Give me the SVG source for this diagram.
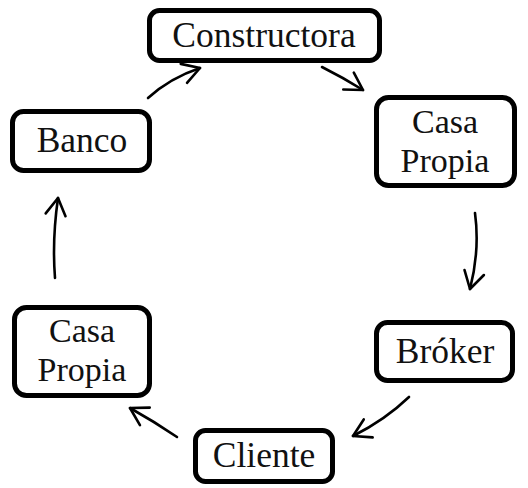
<svg xmlns="http://www.w3.org/2000/svg" width="528" height="488" viewBox="0 0 528 488">
<style>
.box{fill:#fff;stroke:#000;stroke-width:5}
.lbl{font-family:"Liberation Serif","Times New Roman",serif;font-size:35.5px;fill:#111;text-anchor:middle}
.two{font-size:34px}
.arr{fill:none;stroke:#000;stroke-width:2.6;stroke-linecap:round;marker-end:url(#ah)}
</style>
<defs>
<marker id="ah" markerUnits="userSpaceOnUse" markerWidth="30" markerHeight="30" viewBox="-20 -15 30 30" refX="0" refY="0" orient="auto" overflow="visible">
<path d="M-17,-10 L0,0 L-17,10" fill="none" stroke="#000" stroke-width="2.6" stroke-linecap="round" stroke-linejoin="round"/>
</marker>
</defs>
<rect width="528" height="488" fill="#fff"/>
<g id="connectors">
<path class="arr" d="M148,98 Q170,78 200,68"/>
<path class="arr" d="M322,67 Q342,77 363,90"/>
<path class="arr" d="M475,213 Q480,250 470,289"/>
<path class="arr" d="M409,397 Q385,420 353,436"/>
<path class="arr" d="M177,437 Q155,422 130,408"/>
<path class="arr" d="M55,278 Q52,240 58,198"/>
</g>
<g id="constructora">
<rect class="box" x="149.5" y="10.5" width="230" height="50" rx="10"/>
<text class="lbl" x="264" y="47">Constructora</text>
</g>
<g id="casa-propia-1">
<rect class="box" x="376.5" y="97.5" width="138" height="88" rx="12"/>
<text class="lbl two" x="445" y="133">Casa</text>
<text class="lbl two" x="445" y="171.5">Propia</text>
</g>
<g id="broker">
<rect class="box" x="376.5" y="322.5" width="136" height="58" rx="11"/>
<text class="lbl" x="445" y="363">Bróker</text>
</g>
<g id="cliente">
<rect class="box" x="195.5" y="430.5" width="137" height="51" rx="10"/>
<text class="lbl" x="264" y="467">Cliente</text>
</g>
<g id="casa-propia-2">
<rect class="box" x="14.5" y="307.5" width="135" height="88" rx="12"/>
<text class="lbl two" x="82" y="342">Casa</text>
<text class="lbl two" x="82" y="380.5">Propia</text>
</g>
<g id="banco">
<rect class="box" x="12.5" y="111.5" width="137" height="59" rx="11"/>
<text class="lbl" x="82" y="152">Banco</text>
</g>
</svg>
